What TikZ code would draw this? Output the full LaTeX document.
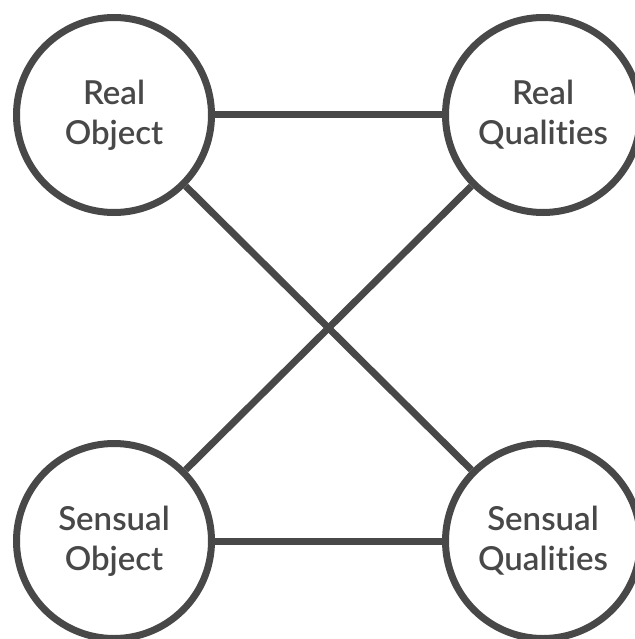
\documentclass[tikz,border=0pt]{standalone}
\usepackage{fontspec}
\setmainfont{Lato}[UprightFont={* Semibold},Ligatures=NoCommon]
\definecolor{ink}{HTML}{484848}
\begin{document}
\begin{tikzpicture}[x=1pt,y=-1pt,
  ball/.style={circle,draw=ink,line width=7pt,minimum size=195pt,inner sep=0pt,
    text=ink,align=center,font=\fontsize{33}{40}\selectfont},
  link/.style={draw=ink,line width=7pt}]
\useasboundingbox (0,0) rectangle (634,639);
\node[ball] (ro) at (114,115) {Real\\Object};
\node[ball] (rq) at (543,115) {Real\\Qualities};
\node[ball] (so) at (114,541) {Sensual\\Object};
\node[ball] (sq) at (543,541) {Sensual\\Qualities};
\draw[link] (ro) -- (rq);
\draw[link] (so) -- (sq);
\draw[link] (ro) -- (sq);
\draw[link] (rq) -- (so);
\end{tikzpicture}
\end{document}
